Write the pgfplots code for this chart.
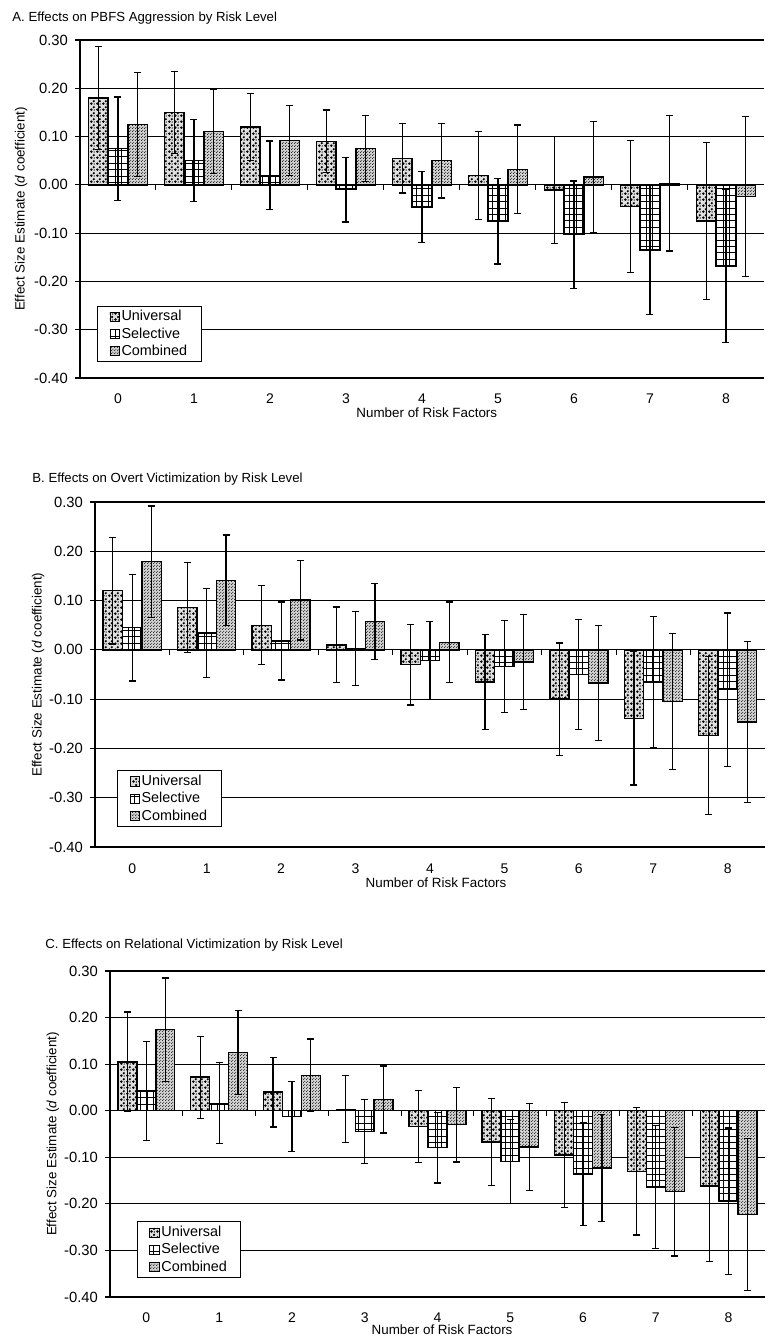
\documentclass[border=0pt]{standalone}
\usepackage{fontspec}
\setmainfont{Liberation Sans}
\usepackage{pgfplots}
\pgfplotsset{compat=1.18}
\usetikzlibrary{patterns}

\pgfdeclarepatternformonly{blobs}{\pgfqpoint{0pt}{0pt}}{\pgfqpoint{3pt}{3pt}}{\pgfqpoint{3pt}{3pt}}{%
 \pgfpathcircle{\pgfqpoint{0.8pt}{0.8pt}}{0.75pt}%
 \pgfpathcircle{\pgfqpoint{2.25pt}{2.2pt}}{0.68pt}%
 \pgfpathcircle{\pgfqpoint{2.45pt}{0.55pt}}{0.4pt}%
 \pgfusepath{fill}}
\pgfdeclarepatternformonly{finedots}{\pgfqpoint{0pt}{0pt}}{\pgfqpoint{1.5pt}{1.5pt}}{\pgfqpoint{1.5pt}{1.5pt}}{%
 \pgfpathcircle{\pgfqpoint{0.4pt}{0.4pt}}{0.33pt}%
 \pgfpathcircle{\pgfqpoint{1.15pt}{1.1pt}}{0.3pt}%
 \pgfusepath{fill}}
\pgfdeclarepatternformonly{heavygrid}{\pgfqpoint{-0.3pt}{-0.3pt}}{\pgfqpoint{3.3pt}{3.3pt}}{\pgfqpoint{3.2pt}{3.2pt}}{%
 \pgfsetlinewidth{0.5pt}%
 \pgfpathmoveto{\pgfqpoint{0pt}{0pt}}\pgfpathlineto{\pgfqpoint{3.2pt}{0pt}}%
 \pgfpathmoveto{\pgfqpoint{0pt}{0pt}}\pgfpathlineto{\pgfqpoint{0pt}{3.2pt}}%
 \pgfusepath{stroke}}

\pgfplotsset{
 riskpanel/.style={
  scale only axis, anchor=north west,
  ybar,
  xmin=-0.5, xmax=8.5, ymin=-0.4, ymax=0.3,
  axis y line*=left, axis x line*=bottom,
  axis line style={-, line width=0.7pt, black},
  ytick={-0.4,-0.3,-0.2,-0.1,0,0.1,0.2,0.3},
  yticklabels={-0.40,-0.30,-0.20,-0.10,0.00,0.10,0.20,0.30},
  xtick={0,1,2,3,4,5,6,7,8},
  xticklabels={0,1,2,3,4,5,6,7,8},
  xtick style={draw=none},
  ytick style={line width=0.6pt, black},
  tick align=outside, major tick length=2.5pt,
  ymajorgrids, grid style={black, line width=0.6pt},
  yticklabel style={font=\fontsize{7.4}{8}\selectfont},
  xticklabel style={font=\fontsize{7}{8}\selectfont, anchor=center},
  label style={font=\fontsize{6.7}{8}\selectfont},
  xlabel={Number of Risk Factors},
  ylabel={Effect Size Estimate (\textit{d} coefficient)},
  legend style={draw=black, line width=0.5pt, anchor=south west,
    font=\fontsize{7.2}{8}\selectfont, inner xsep=6pt, inner ysep=1pt,
    row sep=0pt,
    nodes={inner ysep=1.2pt, inner xsep=1pt, text height=5.2pt, text depth=1pt}},
  legend cell align=left,
  legend image code/.code={\draw[##1, line width=0.4pt] (0pt,-2.3pt) rectangle (4.6pt,2.3pt);},
 },
 errs/.style={error bars/.cd, y dir=both, y explicit,
   error bar style={line width=0.6pt, black},
   error mark=-,
   error mark options={rotate=90, line width=0.6pt, mark size=1.75pt, black}},
 uni/.style={bar width=0.26, bar shift=-0.26, draw=black, line width=0.7pt,
   fill=black!12, postaction={pattern=blobs}, errs},
 sel/.style={bar width=0.26, bar shift=0, draw=black, line width=0.7pt,
   fill=white, postaction={pattern=heavygrid}, errs},
 com/.style={bar width=0.26, bar shift=0.26, draw=black, line width=0.7pt,
   fill=black!18, postaction={pattern=finedots}, errs},
 zeroticks/.style={forget plot, bar shift=0, only marks, mark=|, mark size=1.2pt,
   mark options={yshift=-1.2pt, line width=0.5pt, black}},
}

\begin{document}
\begin{tikzpicture}
\useasboundingbox (0,0) rectangle (385pt,-670.5pt);
\def\titlefont{\fontsize{6.6}{8}\selectfont}
\node[anchor=base west, inner sep=0pt] at (6pt,-10.5pt) {\titlefont A. Effects on PBFS Aggression by Risk Level};
\node[anchor=base west, inner sep=0pt] at (16pt,-241pt) {\titlefont B. Effects on Overt Victimization by Risk Level};
\node[anchor=base west, inner sep=0pt] at (22.5pt,-474pt) {\titlefont C. Effects on Relational Victimization by Risk Level};

% Panel A
\begin{axis}[riskpanel, at={(40pt,-20pt)}, width=342pt, height=169pt,
  xticklabel style={yshift=-8pt},
  xlabel style={at={(axis description cs:0.507,-0.1036)}, anchor=center},
  ylabel style={at={(axis description cs:-0.086,0.5)}, anchor=center},
  legend style={at={(axis description cs:0.025,0.047)}}]
\addplot[uni] coordinates {(0,0.180)+-(0,0.107) (1,0.150)+-(0,0.085) (2,0.120)+-(0,0.070) (3,0.090)+-(0,0.065) (4,0.055)+-(0,0.072) (5,0.019)+-(0,0.091) (6,-0.011)+-(0,0.111) (7,-0.045)+-(0,0.137) (8,-0.075)+-(0,0.162)};
\addplot[sel] coordinates {(0,0.075)+-(0,0.107) (1,0.050)+-(0,0.085) (2,0.020)+-(0,0.071) (3,-0.010)+-(0,0.067) (4,-0.046)+-(0,0.074) (5,-0.075)+-(0,0.089) (6,-0.103)+-(0,0.111) (7,-0.135)+-(0,0.134) (8,-0.168)+-(0,0.158)};
\addplot[com] coordinates {(0,0.125)+-(0,0.108) (1,0.110)+-(0,0.087) (2,0.092)+-(0,0.073) (3,0.075)+-(0,0.068) (4,0.050)+-(0,0.077) (5,0.032)+-(0,0.092) (6,0.016)+-(0,0.115) (7,0.003)+-(0,0.140) (8,-0.024)+-(0,0.165)};
\addplot[zeroticks] coordinates {(0.5,0) (1.5,0) (2.5,0) (3.5,0) (4.5,0) (5.5,0) (6.5,0) (7.5,0)};
\legend{Universal,Selective,Combined}
\end{axis}

% Panel B
\begin{axis}[riskpanel, at={(47.5pt,-251pt)}, width=335pt, height=172.5pt,
  xticklabel style={yshift=-8.5pt},
  xlabel style={at={(axis description cs:0.509,-0.104)}, anchor=center},
  ylabel style={at={(axis description cs:-0.085,0.5)}, anchor=center},
  legend style={at={(axis description cs:0.033,0.058)}}]
\addplot[uni] coordinates {(0,0.120)+-(0,0.108) (1,0.086)+-(0,0.091) (2,0.050)+-(0,0.080) (3,0.010)+-(0,0.077) (4,-0.030)+-(0,0.082) (5,-0.065)+-(0,0.096) (6,-0.100)+-(0,0.114) (7,-0.139)+-(0,0.135) (8,-0.174)+-(0,0.160)};
\addplot[sel] coordinates {(0,0.045)+-(0,0.108) (1,0.034)+-(0,0.090) (2,0.018)+-(0,0.079) (3,0.003)+-(0,0.075) (4,-0.022)+-(0,0.079) (5,-0.034)+-(0,0.093) (6,-0.050)+-(0,0.112) (7,-0.065)+-(0,0.133) (8,-0.081)+-(0,0.156)};
\addplot[com] coordinates {(0,0.179)+-(0,0.113) (1,0.141)+-(0,0.092) (2,0.101)+-(0,0.081) (3,0.057)+-(0,0.077) (4,0.015)+-(0,0.082) (5,-0.025)+-(0,0.096) (6,-0.067)+-(0,0.117) (7,-0.105)+-(0,0.138) (8,-0.146)+-(0,0.163)};
\addplot[zeroticks] coordinates {(0.5,0) (1.5,0) (2.5,0) (3.5,0) (4.5,0) (5.5,0) (6.5,0) (7.5,0)};
\legend{Universal,Selective,Combined}
\end{axis}

% Panel C
\begin{axis}[riskpanel, at={(55pt,-485.5pt)}, width=327.5pt, height=163pt,
  xticklabel style={yshift=-8pt},
  xlabel style={at={(axis description cs:0.507,-0.101)}, anchor=center},
  ylabel style={at={(axis description cs:-0.087,0.5)}, anchor=center},
  legend style={at={(axis description cs:0.041,0.058)}}]
\addplot[uni] coordinates {(0,0.105)+-(0,0.107) (1,0.072)+-(0,0.088) (2,0.040)+-(0,0.075) (3,0.003)+-(0,0.072) (4,-0.034)+-(0,0.078) (5,-0.067)+-(0,0.093) (6,-0.095)+-(0,0.112) (7,-0.130)+-(0,0.137) (8,-0.162)+-(0,0.162)};
\addplot[sel] coordinates {(0,0.042)+-(0,0.106) (1,0.016)+-(0,0.087) (2,-0.013)+-(0,0.075) (3,-0.045)+-(0,0.069) (4,-0.079)+-(0,0.076) (5,-0.109)+-(0,0.090) (6,-0.136)+-(0,0.110) (7,-0.164)+-(0,0.132) (8,-0.194)+-(0,0.157)};
\addplot[com] coordinates {(0,0.174)+-(0,0.111) (1,0.125)+-(0,0.091) (2,0.076)+-(0,0.078) (3,0.024)+-(0,0.072) (4,-0.030)+-(0,0.080) (5,-0.078)+-(0,0.094) (6,-0.123)+-(0,0.115) (7,-0.174)+-(0,0.138) (8,-0.223)+-(0,0.163)};
\addplot[zeroticks] coordinates {(0.5,0) (1.5,0) (2.5,0) (3.5,0) (4.5,0) (5.5,0) (6.5,0) (7.5,0)};
\legend{Universal,Selective,Combined}
\end{axis}
\end{tikzpicture}
\end{document}
